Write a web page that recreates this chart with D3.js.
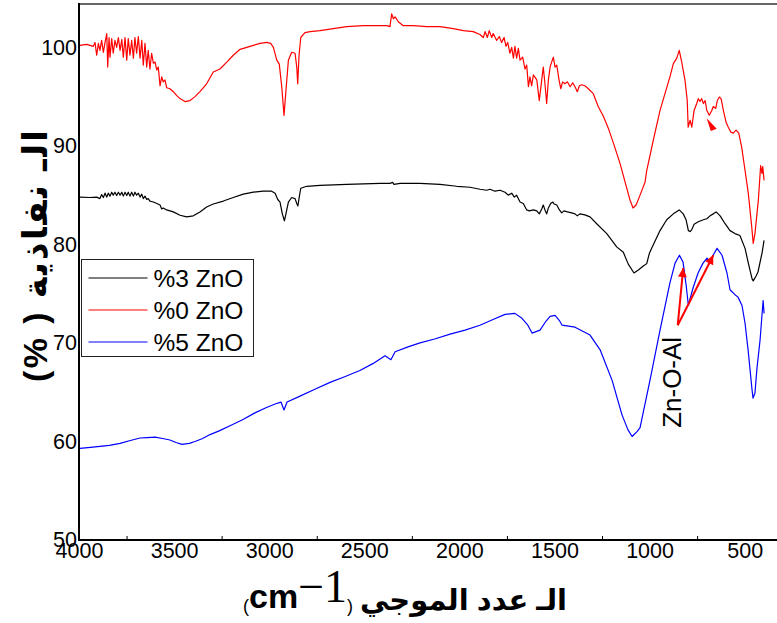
<!DOCTYPE html>
<html>
<head>
<meta charset="utf-8">
<script src="https://cdn.jsdelivr.net/npm/d3@7"></script>
<style>
  body { margin: 0; background: #fff; }
  svg text { font-family: "Liberation Sans", Arial, "DejaVu Sans", sans-serif; }
</style>
</head>
<body>
<svg id="chart" width="777" height="623"></svg>
<script>
// FTIR spectra: [wavenumber (cm-1), transmittance (%)]
const spectrum0 = [ // %0 ZnO
  [3995,100.2],[3960,100.3],[3925,100.1],[3916,100.5],[3907,99.2],[3898,100.4],[3890,99.7],[3881,100.7],[3872,99.5],[3863,100.5],
  [3854,101.4],[3849,98.0],[3842,101.0],[3837,99.0],[3828,100.9],[3820,99.4],[3811,100.7],[3802,100.0],[3793,101.0],[3784,99.7],
  [3775,100.8],[3767,99.0],[3758,101.0],[3749,98.7],[3741,100.9],[3732,99.2],[3723,100.7],[3714,98.9],[3706,101.0],[3697,99.4],
  [3688,101.1],[3679,98.9],[3670,100.7],[3662,98.2],[3653,100.4],[3644,98.0],[3636,99.7],[3627,97.8],[3618,99.4],[3609,98.4],
  [3600,98.5],[3591,97.7],[3583,98.0],[3574,96.1],[3565,97.0],[3557,96.5],[3548,96.7],[3539,95.9],[3522,95.8],[3504,95.5],
  [3486,95.1],[3469,94.8],[3443,94.5],[3416,94.6],[3390,95.0],[3364,95.5],[3329,96.3],[3294,97.5],[3259,97.8],[3223,98.5],
  [3189,99.2],[3153,99.8],[3118,100.0],[3083,100.2],[3048,100.4],[3013,100.5],[2992,100.4],[2978,100.0],[2960,98.7],[2947,98.3],
  [2934,96.0],[2922,93.1],[2912,95.6],[2899,98.7],[2882,99.5],[2864,99.4],[2855,98.0],[2850,96.3],[2843,99.2],[2834,101.0],
  [2812,101.5],[2785,101.6],[2733,101.7],[2663,101.9],[2592,102.1],[2505,102.2],[2417,102.2],[2382,102.2],[2365,102.1],[2356,103.4],
  [2347,102.9],[2338,103.1],[2321,102.6],[2295,102.2],[2242,102.2],[2172,102.1],[2102,102.1],[2032,101.9],[1979,101.7],[1927,101.6],
  [1892,101.3],[1874,101.0],[1865,101.6],[1853,101.0],[1843,101.7],[1830,101.0],[1822,101.4],[1804,100.7],[1790,101.1],[1778,100.5],
  [1765,101.0],[1755,100.1],[1746,100.5],[1734,99.4],[1725,100.0],[1716,98.9],[1708,100.1],[1699,98.9],[1690,99.9],[1681,98.7],
  [1667,99.0],[1655,97.8],[1646,98.2],[1637,96.0],[1629,97.0],[1620,96.1],[1611,97.2],[1593,96.7],[1580,94.6],[1567,96.7],
  [1559,98.0],[1550,96.3],[1541,94.3],[1532,96.7],[1523,98.0],[1515,98.5],[1506,99.0],[1497,98.0],[1488,98.2],[1476,96.7],
  [1467,95.8],[1457,96.5],[1445,96.3],[1432,96.5],[1418,96.0],[1404,96.4],[1392,96.0],[1380,95.5],[1369,96.1],[1357,96.2],
  [1340,96.1],[1322,95.8],[1296,95.3],[1270,94.0],[1243,93.0],[1217,91.8],[1187,90.1],[1155,88.2],[1124,86.0],[1103,84.5],
  [1087,83.7],[1071,84.0],[1050,85.0],[1024,86.3],[1015,87.5],[980,90.6],[945,93.6],[919,95.3],[893,97.0],[875,98.35],
  [857,98.9],[844,99.7],[831,98.5],[814,96.7],[802,94.6],[797,91.9],[787,92.6],[778,91.9],[766,93.6],[752,94.3],
  [744,94.8],[735,94.5],[726,94.8],[717,94.3],[708,94.6],[699,93.6],[686,93.1],[673,93.6],[665,94.0],[652,93.8],
  [644,94.6],[633,94.96],[624,94.8],[612,93.6],[598,92.4],[586,91.9],[573,91.4],[560,91.3],[545,91.6],[531,91.3],
  [516,89.9],[498,87.5],[481,85.2],[463,81.8],[455,80.1],[446,81.1],[437,82.8],[428,84.5],[416,88.0],[409,87.2],
  [405,87.9],[398,86.5]
];

const spectrum3 = [ // %3 ZnO
  [3995,84.8],[3942,84.76],[3907,84.8],[3890,84.65],[3881,85.06],[3872,84.76],[3863,85.2],[3854,84.8],[3846,85.2],[3837,84.9],
  [3828,85.3],[3820,85.0],[3811,85.3],[3802,84.96],[3793,85.3],[3784,85.0],[3775,85.3],[3767,84.9],[3758,85.3],[3749,84.96],
  [3741,85.3],[3732,84.9],[3723,85.3],[3714,84.9],[3706,85.3],[3697,85.0],[3688,85.2],[3679,84.8],[3670,85.1],[3662,84.65],
  [3653,84.9],[3644,84.56],[3636,84.65],[3627,84.4],[3609,84.3],[3591,84.15],[3574,84.0],[3565,83.6],[3557,83.7],[3539,83.5],
  [3504,83.3],[3469,82.96],[3434,82.8],[3399,82.9],[3364,83.3],[3329,83.8],[3294,84.1],[3241,84.4],[3189,84.76],[3136,85.1],
  [3083,85.3],[3031,85.4],[2987,85.4],[2969,85.2],[2955,84.56],[2943,84.3],[2931,83.1],[2920,82.4],[2912,83.1],[2899,84.3],
  [2882,84.76],[2864,84.65],[2855,84.15],[2849,83.9],[2842,84.8],[2834,85.7],[2803,85.9],[2733,86.0],[2592,86.1],[2417,86.2],
  [2365,86.2],[2351,86.3],[2344,86.1],[2312,86.2],[2207,86.2],[2102,86.1],[2014,85.9],[1944,85.8],[1892,85.6],[1856,85.5],
  [1839,85.6],[1813,85.4],[1786,85.5],[1760,85.3],[1743,85.0],[1725,85.2],[1711,84.8],[1699,85.0],[1681,84.3],[1664,84.15],
  [1646,83.5],[1632,83.4],[1611,83.5],[1593,83.4],[1580,83.1],[1567,83.6],[1559,84.0],[1550,83.5],[1541,83.1],[1532,83.7],
  [1520,84.15],[1509,84.3],[1501,84.1],[1488,84.0],[1474,83.5],[1462,83.2],[1450,83.4],[1432,83.3],[1410,83.2],[1392,83.1],
  [1380,82.9],[1366,83.1],[1340,83.0],[1313,82.8],[1278,82.1],[1225,81.1],[1173,79.75],[1138,79.2],[1112,78.0],[1082,77.1],
  [1059,77.4],[1033,77.8],[1015,78.05],[1001,79.1],[989,79.6],[945,81.4],[910,82.5],[875,83.1],[844,83.5],[823,83.1],
  [808,82.5],[796,81.4],[787,81.3],[778,81.5],[766,82.05],[744,82.3],[717,82.5],[699,82.6],[682,82.9],[665,83.1],
  [650,83.3],[629,82.9],[603,82.1],[577,81.4],[551,81.1],[525,80.9],[498,79.6],[482,78.2],[461,76.5],[455,76.3],
  [440,76.8],[430,77.2],[409,79.1],[398,80.4]
];

const spectrum5 = [ // %5 ZnO
  [3995,59.3],[3940,59.4],[3890,59.5],[3840,59.6],[3784,59.8],[3730,60.1],[3679,60.35],[3640,60.4],[3600,60.45],[3560,60.3],
  [3522,60.15],[3490,59.9],[3458,59.7],[3420,59.8],[3390,60.0],[3350,60.3],[3311,60.7],[3260,61.1],[3206,61.6],[3140,62.2],
  [3075,62.9],[3020,63.4],[2969,63.8],[2938,64.0],[2922,63.2],[2906,64.0],[2838,64.6],[2760,65.3],[2680,66.0],[2600,66.6],
  [2523,67.2],[2455,67.9],[2391,68.7],[2360,68.3],[2338,69.1],[2270,69.6],[2207,70.0],[2130,70.4],[2049,70.9],[1970,71.3],
  [1892,71.8],[1820,72.4],[1760,72.9],[1708,73.0],[1671,72.5],[1640,71.8],[1618,71.0],[1576,71.3],[1545,72.2],[1523,72.7],
  [1497,72.8],[1475,72.3],[1460,71.8],[1392,71.6],[1313,70.8],[1260,69.3],[1197,66.2],[1145,62.7],[1114,61.2],[1092,60.5],
  [1066,61.0],[1050,61.4],[998,66.2],[945,71.3],[893,76.1],[866,78.1],[843,78.9],[824,78.2],[808,75.9],[796,73.8],
  [787,74.5],[771,75.6],[745,77.1],[719,78.1],[698,78.6],[682,78.2],[666,78.9],[645,79.6],[619,78.9],[593,77.1],
  [577,75.4],[551,74.9],[535,74.65],[514,73.8],[498,72.0],[482,69.3],[461,65.2],[456,64.4],[446,64.9],[435,67.5],
  [419,70.3],[403,74.3],[398,73.0]
];

const seriesNames = ["%3 ZnO", "%0 ZnO", "%5 ZnO"];
const seriesColors = ["#000000", "#ff0000", "#0000ff"];
const seriesData = [spectrum3, spectrum0, spectrum5];

const xTickValues = [4000, 3500, 3000, 2500, 2000, 1500, 1000, 500];
const xMinorTicks = [3750, 3250, 2750, 2250, 1750, 1250, 750];
const yTickValues = [50, 60, 70, 80, 90, 100];

// Zn-O-Al annotation: arrow origin and the two band positions it points at
const arrowOrigin = [852, 71.8];
const arrowTargets = [[823, 77.6], [665, 78.9]];
const bandLabelPos = [882, 66.0];
const headMark = [[700, 92.8], [647, 91.75], [678, 91.5]];

const svg = d3.select("#chart");
const x = d3.scaleLinear().domain([4000, 330]).range([79, 777]);
const y = d3.scaleLinear().domain([50, 104.4]).range([540, 4]);

svg.append("defs").append("marker")
  .attr("id", "arrowhead")
  .attr("viewBox", "0 0 10 10")
  .attr("refX", 10).attr("refY", 5)
  .attr("markerWidth", 6.5).attr("markerHeight", 4.5)
  .attr("markerUnits", "strokeWidth")
  .attr("orient", "auto")
  .append("path").attr("d", "M0,0 L10,5 L0,10 Z").attr("fill", "#ff0000");

// frame
svg.append("line").attr("x1", 79).attr("x2", 777).attr("y1", 4).attr("y2", 4)
  .attr("stroke", "#333").attr("stroke-width", 1.5);

// spectra
const line = d3.line().x(d => x(d[0])).y(d => y(d[1]));
svg.append("g").selectAll("path")
  .data(seriesData)
  .join("path")
  .attr("d", d => line(d))
  .attr("fill", "none")
  .attr("stroke", (d, i) => seriesColors[i])
  .attr("stroke-width", 1.2)
  .attr("stroke-linejoin", "round");

// axes
const xAxis = svg.append("g").attr("transform", "translate(0,540)")
  .call(d3.axisBottom(x).tickValues(xTickValues).tickSize(0).tickPadding(3).tickFormat(d3.format("d")));
xAxis.select(".domain").remove();
xAxis.selectAll("text").attr("font-size", 21.5).attr("fill", "#000")
  .attr("font-family", "Liberation Sans, Arial, sans-serif");

const xMinor = svg.append("g").attr("transform", "translate(0,540)")
  .call(d3.axisBottom(x).tickValues(xMinorTicks).tickSize(-4).tickFormat(""));
xMinor.select(".domain").remove();
xMinor.selectAll("line").attr("stroke", "#000").attr("stroke-width", 1);

const yAxis = svg.append("g").attr("transform", "translate(79,0)")
  .call(d3.axisLeft(y).tickValues(yTickValues).tickSize(0).tickPadding(2));
yAxis.select(".domain").remove();
yAxis.selectAll("text").attr("font-size", 21.5).attr("fill", "#000")
  .attr("font-family", "Liberation Sans, Arial, sans-serif");

svg.append("line").attr("x1", 79).attr("x2", 777).attr("y1", 540).attr("y2", 540)
  .attr("stroke", "#000").attr("stroke-width", 2);
svg.append("line").attr("x1", 79).attr("x2", 79).attr("y1", 3).attr("y2", 541)
  .attr("stroke", "#000").attr("stroke-width", 2);

// annotations
svg.append("g").selectAll("line")
  .data(arrowTargets)
  .join("line")
  .attr("x1", x(arrowOrigin[0])).attr("y1", y(arrowOrigin[1]))
  .attr("x2", d => x(d[0])).attr("y2", d => y(d[1]))
  .attr("stroke", "#ff0000").attr("stroke-width", 2)
  .attr("marker-end", "url(#arrowhead)");

svg.append("polygon")
  .attr("points", headMark.map(p => [x(p[0]), y(p[1])].join(",")).join(" "))
  .attr("fill", "#ff0000");

svg.append("text")
  .attr("transform", `translate(${x(bandLabelPos[0])},${y(bandLabelPos[1])}) rotate(-90)`)
  .attr("text-anchor", "middle").attr("dominant-baseline", "central")
  .attr("font-size", 26).attr("fill", "#000")
  .text("Zn-O-Al");

// legend
const legend = svg.append("g").attr("transform", "translate(81.5,259.5)");
legend.append("rect").attr("width", 172).attr("height", 97)
  .attr("fill", "#fff").attr("stroke", "#222").attr("stroke-width", 1);
seriesNames.forEach((name, i) => {
  const row = legend.append("g").attr("transform", `translate(0,${18.5 + i * 32})`);
  row.append("line").attr("x1", 7).attr("x2", 66).attr("y1", 0).attr("y2", 0)
    .attr("stroke", seriesColors[i]).attr("stroke-width", 1.2);
  row.append("text").attr("x", 72).attr("y", 8.5).attr("font-size", 24.5).attr("fill", "#000").text(name);
});

// axis titles
svg.append("text")
  .attr("transform", "translate(47,256) rotate(-90)")
  .attr("text-anchor", "middle")
  .style("direction", "rtl")
  .attr("textLength", 252).attr("lengthAdjust", "spacing")
  .attr("font-size", 34).attr("font-weight", "bold").attr("fill", "#000")
  .text("الـ نفاذية ( %)");

svg.append("text")
  .attr("x", 567).attr("y", 610)
  .attr("text-anchor", "end")
  .attr("font-size", 29).attr("font-weight", "bold").attr("fill", "#000")
  .text("الـ عدد الموجي");

const unit = svg.append("text").attr("x", 243).attr("y", 608).attr("fill", "#000");
unit.append("tspan").attr("font-size", 18).attr("dy", 4).text("(");
unit.append("tspan").attr("font-size", 34).attr("font-weight", "bold").attr("dy", -4).text("cm");
unit.append("tspan").attr("font-size", 46).attr("font-family", "Liberation Serif, serif")
  .attr("dy", -6).text("−1");
unit.append("tspan").attr("font-size", 18).attr("dy", 10).text(")");
</script>
</body>
</html>
